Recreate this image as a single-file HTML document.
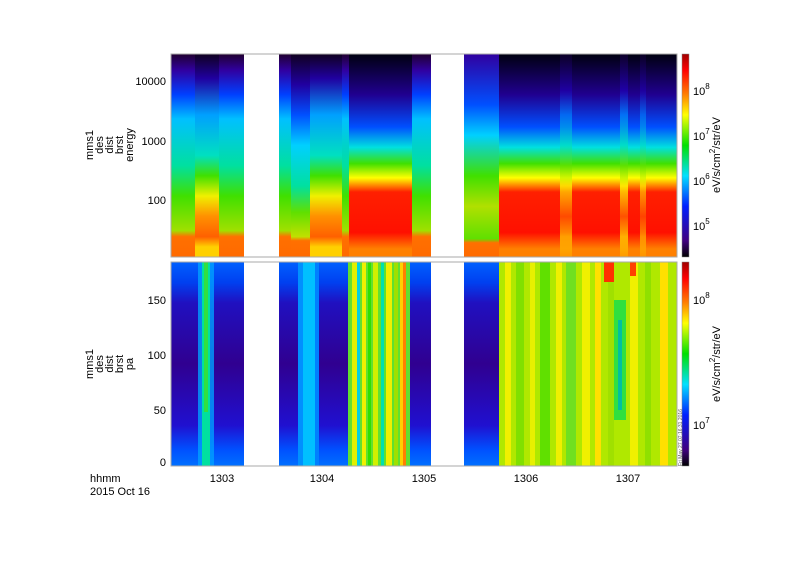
<!DOCTYPE html>
<html><head><meta charset="utf-8"><style>
body{margin:0;background:#fff;}
svg{display:block;font-family:"Liberation Sans",sans-serif;}
</style></head><body>
<svg width="800" height="565" viewBox="0 0 800 565" xmlns="http://www.w3.org/2000/svg">
<defs>
<linearGradient id="g1" x1="0" y1="0" x2="0" y2="1">
<stop offset="0" stop-color="#200030"/><stop offset=".08" stop-color="#3000a0"/><stop offset=".2" stop-color="#0040ff"/><stop offset=".32" stop-color="#00c0ff"/><stop offset=".55" stop-color="#00e0a0"/><stop offset=".7" stop-color="#40e000"/><stop offset=".87" stop-color="#a0e000"/><stop offset=".9" stop-color="#ff7000"/><stop offset="1" stop-color="#ff6a00"/>
</linearGradient>
<linearGradient id="g1b" x1="0" y1="0" x2="0" y2="1">
<stop offset="0" stop-color="#100020"/><stop offset=".15" stop-color="#2000a0"/><stop offset=".3" stop-color="#0050ff"/><stop offset=".45" stop-color="#00d0ff"/><stop offset=".65" stop-color="#00e0a0"/><stop offset=".78" stop-color="#60e000"/><stop offset=".9" stop-color="#c0e000"/><stop offset=".92" stop-color="#ff7000"/><stop offset="1" stop-color="#ff6a00"/>
</linearGradient>
<linearGradient id="g2" x1="0" y1="0" x2="0" y2="1">
<stop offset="0" stop-color="#100020"/><stop offset=".12" stop-color="#2000a0"/><stop offset=".3" stop-color="#00a0ff"/><stop offset=".5" stop-color="#00e0c0"/><stop offset=".6" stop-color="#40e000"/><stop offset=".7" stop-color="#f0f000"/><stop offset=".8" stop-color="#ff9000"/><stop offset=".9" stop-color="#ff6000"/><stop offset=".95" stop-color="#ffd000"/><stop offset="1" stop-color="#ffd000"/>
</linearGradient>
<linearGradient id="g3" x1="0" y1="0" x2="0" y2="1">
<stop offset="0" stop-color="#000010"/><stop offset=".2" stop-color="#200090"/><stop offset=".36" stop-color="#0050ff"/><stop offset=".46" stop-color="#00e0e0"/><stop offset=".54" stop-color="#40e000"/><stop offset=".61" stop-color="#ffff00"/><stop offset=".68" stop-color="#ff2000"/><stop offset=".88" stop-color="#ff1000"/><stop offset=".96" stop-color="#ff8000"/><stop offset="1" stop-color="#ff8000"/>
</linearGradient>
<linearGradient id="g3y" x1="0" y1="0" x2="0" y2="1">
<stop offset="0" stop-color="#100030"/><stop offset=".18" stop-color="#2000b0"/><stop offset=".3" stop-color="#0080ff"/><stop offset=".45" stop-color="#00e0c0"/><stop offset=".55" stop-color="#60e000"/><stop offset=".65" stop-color="#ffff00"/><stop offset=".8" stop-color="#ff6000"/><stop offset=".9" stop-color="#ffd000"/><stop offset="1" stop-color="#ffa000"/>
</linearGradient>
<linearGradient id="g4" x1="0" y1="0" x2="0" y2="1">
<stop offset="0" stop-color="#3000a0"/><stop offset=".25" stop-color="#0050ff"/><stop offset=".4" stop-color="#00d0ff"/><stop offset=".6" stop-color="#40e000"/><stop offset=".75" stop-color="#b0e000"/><stop offset=".91" stop-color="#60e000"/><stop offset=".93" stop-color="#ff7000"/><stop offset="1" stop-color="#ff6a00"/>
</linearGradient>
<linearGradient id="bl" x1="0" y1="0" x2="0" y2="1">
<stop offset="0" stop-color="#0060ff"/><stop offset=".1" stop-color="#0040f0"/><stop offset=".2" stop-color="#2010c0"/><stop offset=".5" stop-color="#300090"/><stop offset=".8" stop-color="#2010d0"/><stop offset=".92" stop-color="#0050ff"/><stop offset="1" stop-color="#0070ff"/>
</linearGradient>
<linearGradient id="cb" x1="0" y1="1" x2="0" y2="0">
<stop offset="0" stop-color="#000000"/><stop offset=".08" stop-color="#400080"/><stop offset=".25" stop-color="#0020ff"/><stop offset=".4" stop-color="#00e0ff"/><stop offset=".55" stop-color="#00e000"/><stop offset=".7" stop-color="#ffff00"/><stop offset=".8" stop-color="#ff8000"/><stop offset=".92" stop-color="#ff0000"/><stop offset="1" stop-color="#a00000"/>
</linearGradient>
</defs>

<!-- TOP PANEL -->
<rect x="171" y="54" width="24" height="203" fill="url(#g1)"/>
<rect x="195" y="54" width="24" height="203" fill="url(#g2)"/>
<rect x="219" y="54" width="25" height="203" fill="url(#g1)"/>
<rect x="279" y="54" width="12" height="203" fill="url(#g1)"/>
<rect x="291" y="54" width="19" height="203" fill="url(#g1b)"/>
<rect x="310" y="54" width="32" height="203" fill="url(#g2)"/>
<rect x="342" y="54" width="7" height="203" fill="url(#g1)"/>
<rect x="349" y="54" width="63" height="203" fill="url(#g3)"/>
<rect x="412" y="54" width="19" height="203" fill="url(#g1)"/>
<rect x="464" y="54" width="35" height="203" fill="url(#g4)"/>
<rect x="499" y="54" width="178" height="203" fill="url(#g3)"/>
<rect x="560" y="54" width="12" height="203" fill="url(#g3y)" opacity=".7"/>
<rect x="620" y="54" width="8" height="203" fill="url(#g3y)" opacity=".8"/>
<rect x="640" y="54" width="6" height="203" fill="url(#g3y)" opacity=".6"/>

<!-- BOTTOM PANEL -->
<rect x="171" y="262" width="73" height="204" fill="url(#bl)"/>
<rect x="198" y="262" width="4" height="204" fill="#00a0ff" opacity=".8"/>
<rect x="202" y="262" width="8" height="204" fill="#00e0a0"/>
<rect x="204" y="262" width="4" height="150" fill="#30e040"/>
<rect x="210" y="262" width="4" height="204" fill="#00a0ff" opacity=".8"/>
<rect x="279" y="262" width="69" height="204" fill="url(#bl)"/>
<rect x="298" y="262" width="5" height="204" fill="#0090ff"/>
<rect x="303" y="262" width="12" height="204" fill="#00c0ff"/>
<rect x="315" y="262" width="4" height="204" fill="#0080ff"/>
<rect x="348" y="262" width="62" height="204" fill="#60e030"/>
<rect x="352" y="262" width="5" height="204" fill="#e0f000"/>
<rect x="357" y="262" width="3" height="204" fill="#00d0e0"/>
<rect x="362" y="262" width="4" height="204" fill="#f0f000"/>
<rect x="368" y="262" width="3" height="204" fill="#30e000"/>
<rect x="373" y="262" width="5" height="204" fill="#d0f000"/>
<rect x="381" y="262" width="3" height="204" fill="#00e0b0"/>
<rect x="386" y="262" width="6" height="204" fill="#f0f000"/>
<rect x="394" y="262" width="4" height="204" fill="#a0e000"/>
<rect x="400" y="262" width="6" height="204" fill="#ffd000"/>
<rect x="403" y="262" width="3" height="204" fill="#ff8000"/>
<rect x="410" y="262" width="21" height="204" fill="url(#bl)"/>
<rect x="464" y="262" width="35" height="204" fill="url(#bl)"/>
<rect x="499" y="262" width="178" height="204" fill="#b0e800"/>
<rect x="505" y="262" width="6" height="204" fill="#f0f000"/>
<rect x="516" y="262" width="8" height="204" fill="#80e000"/>
<rect x="530" y="262" width="5" height="204" fill="#e8f000"/>
<rect x="540" y="262" width="10" height="204" fill="#60e000"/>
<rect x="556" y="262" width="6" height="204" fill="#f0f000"/>
<rect x="566" y="262" width="10" height="204" fill="#70e020"/>
<rect x="582" y="262" width="8" height="204" fill="#f0f000"/>
<rect x="595" y="262" width="6" height="204" fill="#ffe000"/>
<rect x="608" y="262" width="6" height="204" fill="#a0e000"/>
<rect x="614" y="300" width="12" height="120" fill="#30e040"/>
<rect x="618" y="320" width="4" height="90" fill="#00c0a0"/>
<rect x="630" y="262" width="8" height="204" fill="#f0f000"/>
<rect x="645" y="262" width="6" height="204" fill="#90e000"/>
<rect x="660" y="262" width="8" height="204" fill="#ffe000"/>
<rect x="604" y="262" width="10" height="20" fill="#ff3000"/>
<rect x="630" y="262" width="6" height="14" fill="#ff4000"/>

<!-- frames -->
<rect x="171" y="54" width="506" height="203" fill="none" stroke="#aaa" stroke-width="1"/>
<rect x="171" y="262" width="506" height="204" fill="none" stroke="#aaa" stroke-width="1"/>

<!-- y axis -->
<g font-size="11" fill="#000" text-anchor="end">
<text x="166" y="85">10000</text>
<text x="166" y="145">1000</text>
<text x="166" y="204">100</text>
<text x="166" y="466">0</text>
<text x="166" y="414">50</text>
<text x="166" y="359">100</text>
<text x="166" y="304">150</text>
</g>
<g font-size="11" fill="#000" text-anchor="middle">
<text transform="translate(93,145) rotate(-90)">mms1</text>
<text transform="translate(103,145) rotate(-90)">des</text>
<text transform="translate(113,145) rotate(-90)">dist</text>
<text transform="translate(123,145) rotate(-90)">brst</text>
<text transform="translate(133,145) rotate(-90)">energy</text>
<text transform="translate(93,364) rotate(-90)">mms1</text>
<text transform="translate(103,364) rotate(-90)">des</text>
<text transform="translate(113,364) rotate(-90)">dist</text>
<text transform="translate(123,364) rotate(-90)">brst</text>
<text transform="translate(133,364) rotate(-90)">pa</text>
</g>

<!-- x axis -->
<g font-size="11" fill="#000" text-anchor="middle">
<text x="222" y="482">1303</text>
<text x="322" y="482">1304</text>
<text x="424" y="482">1305</text>
<text x="526" y="482">1306</text>
<text x="628" y="482">1307</text>
</g>
<text x="90" y="482" font-size="11">hhmm</text>
<text x="90" y="495" font-size="11">2015 Oct 16</text>

<!-- colorbars -->
<rect x="682" y="54" width="7" height="203" fill="url(#cb)" stroke="#888" stroke-width=".5"/>
<rect x="682" y="262" width="7" height="204" fill="url(#cb)" stroke="#888" stroke-width=".5"/>
<g font-size="11" fill="#000">
<text x="693" y="95">10<tspan font-size="8" dy="-6">8</tspan></text>
<text x="693" y="140">10<tspan font-size="8" dy="-6">7</tspan></text>
<text x="693" y="185">10<tspan font-size="8" dy="-6">6</tspan></text>
<text x="693" y="230">10<tspan font-size="8" dy="-6">5</tspan></text>
<text x="693" y="304">10<tspan font-size="8" dy="-6">8</tspan></text>
<text x="693" y="429">10<tspan font-size="8" dy="-6">7</tspan></text>
</g>
<g font-size="11" fill="#000" text-anchor="middle">
<text transform="translate(720,155) rotate(-90)">eV/s/cm<tspan font-size="8" dy="-5">2</tspan><tspan dy="5">/str/eV</tspan></text>
<text transform="translate(720,364) rotate(-90)">eV/s/cm<tspan font-size="8" dy="-5">2</tspan><tspan dy="5">/str/eV</tspan></text>
</g>
<text transform="translate(682,466) rotate(-90)" font-size="5" fill="#555">Fri May 27 07:16:31 2016</text>
</svg>
</body></html>
